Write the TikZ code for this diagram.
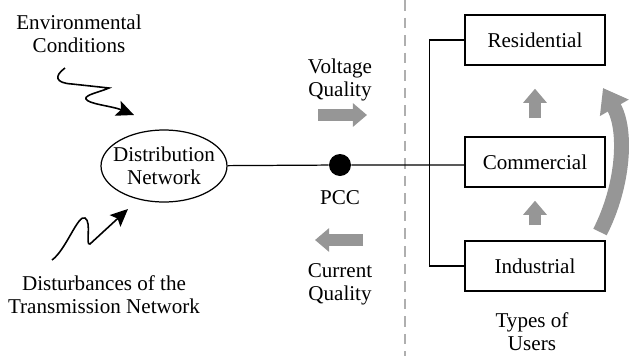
\documentclass[tikz,border=0pt]{standalone}
\usepackage{fontspec}
\setmainfont{Liberation Serif}
\newfontfamily\timesfont{Liberation Serif}
\usetikzlibrary{arrows.meta, shapes.geometric, calc}

\definecolor{flowgray}{RGB}{150,150,150}
\definecolor{dashgray}{RGB}{175,175,175}

\begin{document}
\begin{tikzpicture}[x=0.02cm, y=-0.02cm, font=\timesfont\fontsize{12}{13}\selectfont,
	usertype/.style={draw, line width=0.8pt, minimum width=2.8cm, minimum height=1cm, inner sep=0pt},
	txt/.style={align=center, inner sep=1pt},
	flow/.style={draw=flowgray, line width=6.8pt, -{Triangle[length=8pt, width=13pt]}},
	wiggle/.style={line width=0.9pt, -{Stealth[length=10pt, width=9pt, inset=2pt]}}]
	\useasboundingbox (0,0) rectangle (630,356);
	% left side: network and its disturbances
	\node[txt] (env) at (79,34) {Environmental\\Conditions};
	\node[draw, ellipse, line width=0.7pt, minimum width=2.52cm, minimum height=1.44cm, inner xsep=-4pt, inner ysep=0pt, align=center] (dist) at (164,166) {Distribution\\Network};
	\node[txt] (trans) at (104,295) {Disturbances of the\\Transmission Network};
	\draw[wiggle] (65,68) .. controls (54,76) and (55,83) .. (72,84) -- (109,88) .. controls (100,92) and (84,95) .. (86,99) .. controls (88,104) and (112,106) .. (134,115);
	\draw[wiggle] (52,260) .. controls (66,250) and (78,214) .. (85,218) .. controls (92,222) and (85,246) .. (90,244) -- (128,209);
	% point of common coupling
	\node[circle, fill=black, minimum size=0.44cm, inner sep=0pt] (pcc) at (340,165) {};
	\node[txt] (pcclabel) at (340,198) {PCC};
	\node[txt] (volt) at (340,80) {Voltage\\Quality};
	\node[txt] (curr) at (340,284) {Current\\Quality};
	\draw[flow] (318,115) -- (367,115);
	\draw[flow] (363,240) -- (315,240);
	\draw[dashgray, line width=0.8pt, dash pattern=on 6pt off 4pt] (405,0) -- (405,356);
	% types of users
	\node[usertype] (res) at (535,40) {Residential};
	\node[usertype] (com) at (535,162) {Commercial};
	\node[usertype] (ind) at (535,266) {Industrial};
	\node[txt] (types) at (532,332) {Types of\\Users};
	\draw[line width=0.7pt] (dist) -- (pcc) -- (pcc -| com.west);
	\draw[line width=0.7pt] (res.west) -- ++(-35,0) |- (ind.west);
	\draw[flow] ($(com.north)+(0,-18)$) -- ($(res.south)+(0,23)$);
	\draw[flow] ($(ind.north)+(0,-15)$) -- ($(com.south)+(0,13)$);
	\draw[flow, line width=8.5pt, -{Triangle[length=13pt, width=18pt]}] (600,232) .. controls (624,185) and (627,130) .. (603,88);
\end{tikzpicture}
\end{document}
